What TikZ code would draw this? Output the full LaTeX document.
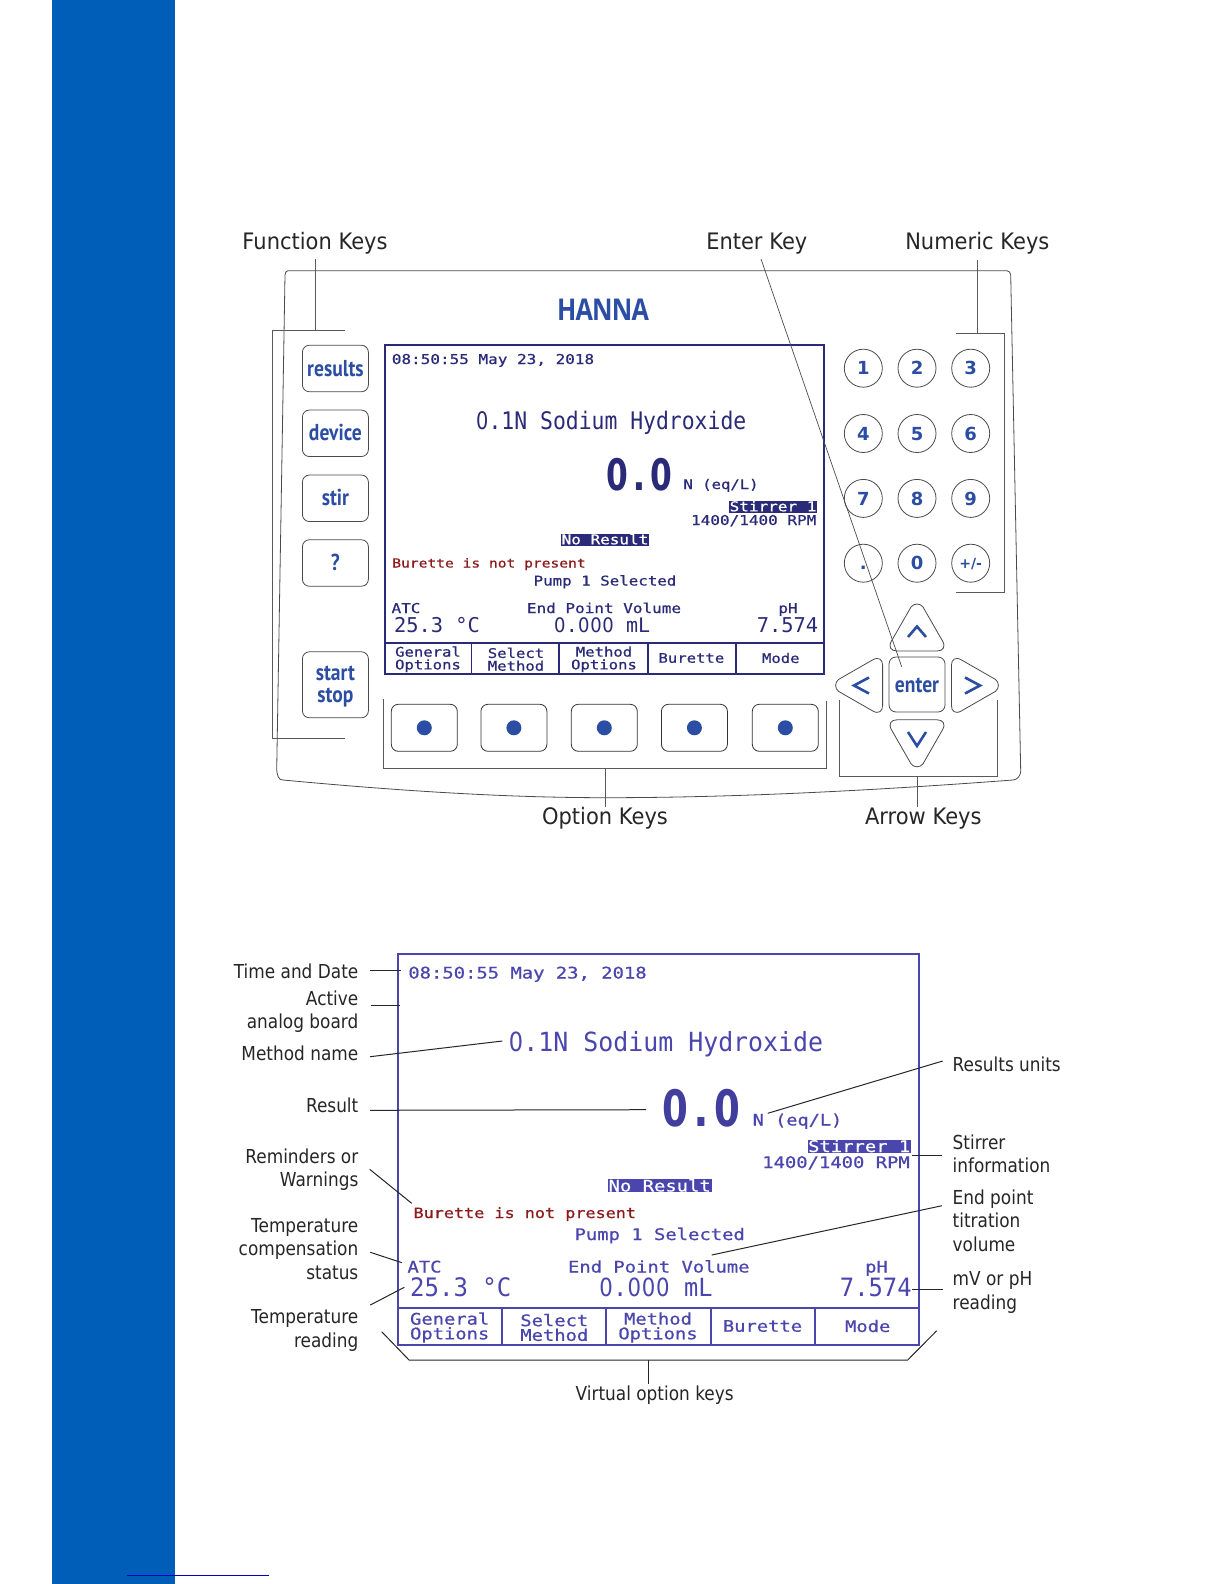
\documentclass[tikz,border=0pt]{standalone}
\usepackage{fontspec}
\usepackage{graphicx}
\newfontfamily\lblfont{DejaVu Sans}
\newfontfamily\logofont{Open Sans}
\newfontfamily\lcdfont{DejaVu Sans Mono}
\newfontfamily\lcdmid[FakeBold=0.6]{DejaVu Sans Mono}
\newfontfamily\keyfont{PT Sans}
\newfontfamily\zerofont{DejaVu Sans}
\definecolor{barblue}{HTML}{005EB8}
\definecolor{footline}{HTML}{0000C0}
\definecolor{navy}{HTML}{2A2A78}
\definecolor{violet}{HTML}{4A46AE}
\definecolor{keyblue}{HTML}{2B4DA3}
\definecolor{lcdred}{HTML}{8B1A1A}
\definecolor{outl}{HTML}{4A4A4A}
\newcommand{\ktxt}[1]{\scalebox{.85}[1]{#1}}
\newcommand{\zr}{\makebox[.602em]{\scalebox{.9}[1]{\zerofont 0}}}
\newcommand{\zb}{\makebox[.602em]{\scalebox{.865}[1]{\zerofont\bfseries 0}}}
\tikzset{
  x=1pt,y=-1pt,
  lcdr/.style n args={2}{font=\lcdfont\fontsize{#1}{#1}\selectfont,yscale=#2,inner sep=0pt,outer sep=0pt,anchor=base},
  lcdb/.style n args={2}{font=\lcdmid\fontsize{#1}{#1}\selectfont,yscale=#2,inner sep=0pt,outer sep=0pt,anchor=base},
  lcdh/.style n args={2}{font=\lcdfont\bfseries\fontsize{#1}{#1}\selectfont,yscale=#2,inner sep=0pt,outer sep=0pt,anchor=base},
  softa/.style={font=\lcdmid\fontsize{15.6}{15}\selectfont,yscale=.85,align=center,inner sep=0pt,text=navy},
  softb/.style={font=\lcdmid\fontsize{18.8}{17.3}\selectfont,yscale=.85,align=center,inner sep=0pt,text=violet},
  lbl/.style={font=\lblfont\fontsize{18}{21.8}\selectfont,xscale=.94,yscale=1.07,text=black!85,inner sep=0pt,outer sep=0pt,anchor=base east,align=right},
  lblr/.style={font=\lblfont\fontsize{18}{21.8}\selectfont,xscale=.94,yscale=1.07,text=black!85,inner sep=0pt,outer sep=0pt,anchor=base west,align=left},
  head/.style={font=\lblfont\fontsize{21}{24}\selectfont,yscale=1.08,text=black!85,inner sep=0pt,outer sep=0pt,anchor=base},
  fnkey/.style={draw=outl,line width=.8pt,rounded corners=7pt,minimum width=66pt,minimum height=46.5pt,inner sep=0pt,outer sep=0pt,font=\keyfont\bfseries\fontsize{23}{25}\selectfont,text=keyblue,text height=15pt,text depth=0pt},
  optkey/.style={draw=black!80,line width=.8pt,rounded corners=7pt,minimum width=66pt,minimum height=47pt,inner sep=0pt,outer sep=0pt},
  optdot/.style={circle,fill=keyblue,minimum size=15pt,inner sep=0pt},
  numkey/.style={draw=outl,line width=.8pt,circle,minimum size=38pt,inner sep=0pt,outer sep=0pt,font=\lblfont\bfseries\fontsize{18}{20}\selectfont,text=keyblue,text height=13.5pt,text depth=0pt},
  arrowkey/.style={draw=outl,line width=.8pt},
  chev/.style={draw=keyblue,line width=2.6pt},
  bracket/.style={draw=black!65,line width=.9pt},
  leader/.style={draw=black!85,line width=1pt},
  thinlead/.style={draw=black!70,line width=.7pt},
}
\begin{document}
\begin{tikzpicture}
\useasboundingbox (0,0) rectangle (1224,1584);
\fill[white] (0,0) rectangle (1224,1584);
\fill[barblue] (52,0) rectangle (175,1584);
\draw[footline,line width=1pt] (126.7,1575) -- (268.7,1575);

% device outline
\draw[draw=outl,line width=.8pt] (288,270.7) -- (1007,270.7) to[out=0,in=100] (1010.7,275) -- (1020.7,771.5) to[out=265,in=5] (1013,780)
  .. controls (880,790) and (740,797.7) .. (605.6,797.7)
  .. controls (500,797.7) and (390,790) .. (283,780) to[out=185,in=275] (276.7,770) -- (285,275) to[out=85,in=180] (288,270.7);
\node[font=\logofont\bfseries\fontsize{30}{30}\selectfont\addfontfeature{LetterSpace=-3},text=keyblue,xscale=.84,inner sep=0pt,anchor=base] (logo) at (603,320) {HANNA};

% first screen
\draw[navy,line width=2pt] (385,344.5) rectangle (824,674);
\draw[navy,line width=2pt] (385,642.7) -- (824,642.7);
\foreach \xx in {471.5,559,648,736} \draw[navy,line width=1.6pt] (\xx,642.7) -- (\xx,674);
\fill[navy] (729,501) rectangle (817,512.5);
\fill[navy] (561,534) rectangle (649,545.5);
\node[lcdb={16}{.85},text=navy] (aTime) at (493,364) {08:50:55 May 23, 2018};
\node[lcdr={21.4}{1.13},text=navy] (aMethod) at (611,429.5) {\zr.1N Sodium Hydroxide};
\node[lcdh={36.2}{1.2},text=navy] (aResult) at (639.5,490) {\zb.\zb};
\node[lcdb={15.6}{.85},text=navy] (aUnits) at (721,489) {N (eq/L)};
\node[lcdb={16}{.85},text=white] (aStir) at (773,511.3) {Stirrer 1};
\node[lcdb={16}{.85},text=navy] (aRpm) at (753.7,525) {1400/1400 RPM};
\node[lcdb={16}{.85},text=white] (aNoRes) at (605,544.3) {No Result};
\node[lcdb={14.6}{.85},text=lcdred] (aBur) at (489,567.5) {Burette is not present};
\node[lcdb={15.8}{.85},text=navy] (aPump) at (605,585.5) {Pump 1 Selected};
\node[lcdb={16}{.85},text=navy] (aAtc) at (406,613) {ATC};
\node[lcdb={16}{.85},text=navy] (aEnd) at (604,613) {End Point Volume};
\node[lcdb={16}{.85},text=navy] (aPh) at (788,613) {pH};
\node[lcdr={20.4}{1},text=navy] (aTemp) at (437,632) {25.3 °C};
\node[lcdr={20}{1},text=navy] (aVol) at (602,632) {\zr.\zr\zr\zr{} mL};
\node[lcdr={20.4}{1},text=navy] (aPhv) at (787.5,632) {7.574};
\node[softa] (aS1) at (428,659.3) {General\\Options};
\node[softa] (aS2) at (516,659.3) {Select\\Method};
\node[softa] (aS3) at (604,659.3) {Method\\Options};
\node[softa] (aS4) at (691.4,658) {Burette};
\node[softa] (aS5) at (780.8,658) {Mode};

% function keys
\node[fnkey] (kResults) at (335.4,368.5) {\ktxt{results}};
\node[fnkey] (kDevice) at (335.4,433.3) {\ktxt{device}};
\node[fnkey] (kStir) at (335.4,498.3) {\ktxt{stir}};
\node[fnkey] (kHelp) at (335.4,563) {\ktxt{?}};
\node[fnkey,minimum height=66pt,text height=35pt,align=center,font=\keyfont\bfseries\fontsize{23}{22}\selectfont] (kStart) at (335.4,684.8) {\ktxt{start}\\\ktxt{stop}};

% option keys
\foreach \nm/\xx in {o1/424.3,o2/513.9,o3/604.3,o4/694.4,o5/785.3}{
  \node[optkey] (\nm) at (\xx,727.8) {};
  \node[optdot] (\nm d) at (\nm) {};
}

% numeric keys
\foreach \nm/\xx/\yy/\tx in {n1/863.3/368.2/1,n2/917/368.2/2,n3/970.7/368.2/3,n4/863.3/433.5/4,n5/917/433.5/5,n6/970.7/433.5/6,n7/863.3/498.4/7,n8/917/498.4/8,n9/970.7/498.4/9,nd/863.3/563.2/.,n0/917/563.2/0}{
  \node[numkey] (\nm) at (\xx,\yy) {\tx};
}
\node[numkey,font=\lblfont\bfseries\fontsize{14}{16}\selectfont,text height=11.5pt] (npm) at (970.7,563.2) {+/-};

% arrow keys
\foreach \ang in {0,90,180,270}{
\draw[arrowkey,rotate around={\ang:(917,685.4)}] (911,607) -- (891.5,641) .. controls (888,647) and (891,651) .. (897,651) -- (937,651) .. controls (943,651) and (946,647) .. (942.5,641) -- (923,607) .. controls (920,603) and (914,603) .. (911,607) -- cycle;
}
\node[fnkey,minimum width=56pt,minimum height=55pt] (kEnter) at (917,684.5) {\ktxt{enter}};
\draw[chev] (908,637) -- (917,626.5) -- (926,637);
\draw[chev] (908,732) -- (917,746) -- (926,732);
\draw[chev] (869,677.5) -- (854,685.5) -- (869,693.5);
\draw[chev] (965,677.5) -- (980,685.5) -- (965,693.5);

% brackets of the keypad
\coordinate (fA) at (344.6,330); \coordinate (fB) at (272,330); \coordinate (fC) at (272,738); \coordinate (fD) at (344.6,738);
\draw[bracket] (fA) -- (fB) -- (fC) -- (fD);
\coordinate (oA) at (383.4,699); \coordinate (oB) at (383.4,768.3); \coordinate (oC) at (826,768.3); \coordinate (oD) at (826,701);
\draw[bracket] (oA) -- (oB) -- (oC) -- (oD);
\coordinate (nA) at (956,333.5); \coordinate (nB) at (1004,333.5); \coordinate (nC) at (1004,592); \coordinate (nD) at (956,592);
\draw[bracket] (nA) -- (nB) -- (nC) -- (nD);
\coordinate (rA) at (839.3,700); \coordinate (rB) at (839.3,776); \coordinate (rC) at (997.3,776); \coordinate (rD) at (997.3,700);
\draw[bracket] (rA) -- (rB) -- (rC) -- (rD);

% headings
\node[head] (hFn) at (315,249) {Function Keys};
\node[head] (hEnter) at (756.8,249) {Enter Key};
\node[head] (hNum) at (977.3,249) {Numeric Keys};
\node[head] (hOpt) at (605,824.5) {Option Keys};
\node[head] (hArr) at (923.3,824.5) {Arrow Keys};
\coordinate (lFn) at (315,259); \coordinate (lFnE) at (315,330);
\coordinate (lEn) at (761,259); \coordinate (lEnE) at (901.7,666.8);
\coordinate (lNu) at (977.3,259.5); \coordinate (lNuE) at (977.3,333.5);
\coordinate (lOp) at (605,768.3); \coordinate (lOpE) at (605,806.7);
\coordinate (lAr) at (917.3,776); \coordinate (lArE) at (917.3,807);
\draw[bracket] (lFn) -- (lFnE);
\draw[thinlead] (lEn) -- (lEnE);
\draw[bracket] (lNu) -- (lNuE);
\draw[bracket] (lOp) -- (lOpE);
\draw[bracket] (lAr) -- (lArE);

% second screen
\draw[violet,line width=2pt] (398.3,954.3) rectangle (919.3,1345);
\draw[violet,line width=2pt] (398.3,1307.7) -- (919.3,1307.7);
\foreach \xx in {501.7,605.7,710.7,815} \draw[violet,line width=1.6pt] (\xx,1307.7) -- (\xx,1345);
\fill[violet] (807.7,1140) rectangle (910.7,1152.7);
\fill[violet] (607.7,1179) rectangle (711.7,1192.3);
\node[lcdb={18.85}{.85},text=violet] (bTime) at (527.5,978.5) {08:50:55 May 23, 2018};
\node[lcdr={24.9}{1.06},text=violet] (bMethod) at (665.8,1051.5) {\zr.1N Sodium Hydroxide};
\node[lcdh={42.9}{1.17},text=violet!70!navy] (bResult) at (701.3,1126.5) {\zb.\zb};
\node[lcdb={18.6}{.85},text=violet] (bUnits) at (797.5,1125.5) {N (eq/L)};
\node[lcdb={18.85}{.85},text=white] (bStir) at (859.2,1152) {Stirrer 1};
\node[lcdb={18.85}{.85},text=violet] (bRpm) at (836,1168) {1400/1400 RPM};
\node[lcdb={18.85}{.85},text=white] (bNoRes) at (659.7,1191.5) {No Result};
\node[lcdb={16.8}{.85},text=lcdred] (bBur) at (524.8,1218) {Burette is not present};
\node[lcdb={18.85}{.85},text=violet] (bPump) at (659.7,1240) {Pump 1 Selected};
\node[lcdb={18.85}{.85},text=violet] (bAtc) at (424.5,1272.5) {ATC};
\node[lcdb={18.85}{.85},text=violet] (bEnd) at (658.8,1272.5) {End Point Volume};
\node[lcdb={18.85}{.85},text=violet] (bPh) at (876.5,1272.5) {pH};
\node[lcdr={24}{1.06},text=violet] (bTemp) at (460.8,1296) {25.3 °C};
\node[lcdr={23.6}{1.06},text=violet] (bVol) at (655.8,1296) {\zr.\zr\zr\zr{} mL};
\node[lcdr={23.8}{1.06},text=violet] (bPhv) at (875.8,1296) {7.574};
\node[softb] (bS1) at (449.7,1327.5) {General\\Options};
\node[softb] (bS2) at (554.3,1327.5) {Select\\Method};
\node[softb] (bS3) at (658,1327.5) {Method\\Options};
\node[softb] (bS4) at (762.5,1326) {Burette};
\node[softb] (bS5) at (867.7,1326) {Mode};

% labels of the second screen
\node[lbl] (tTime) at (358.3,978) {Time and Date};
\node[lbl] (tBoard) at (358.3,1028.7) {Active\\analog board};
\node[lbl] (tMethod) at (358.3,1060.7) {Method name};
\node[lbl] (tResult) at (358.3,1112.3) {Result};
\node[lbl] (tRem) at (358.3,1186.7) {Reminders or\\Warnings};
\node[lbl] (tComp) at (358.3,1279.3) {Temperature\\compensation\\status};
\node[lbl] (tRead) at (358.3,1347.3) {Temperature\\reading};
\node[lblr] (tUnits) at (952.7,1071) {Results units};
\node[lblr] (tStir) at (952.7,1172.7) {Stirrer\\ information};
\node[lblr] (tEnd) at (952.7,1251) {End point\\titration\\volume};
\node[lblr] (tMv) at (952.7,1309.3) {mV or pH\\reading};
\node[font=\lblfont\fontsize{18}{22}\selectfont,xscale=.94,yscale=1.07,text=black!85,inner sep=0pt,anchor=base] (tVirt) at (654.7,1400.7) {Virtual option keys};

% connectors of the second screen
\coordinate (c1a) at (370.3,970); \coordinate (c1b) at (400.7,970);
\coordinate (c2a) at (370.7,1005); \coordinate (c2b) at (400,1005);
\coordinate (c3a) at (370,1056.7); \coordinate (c3b) at (502.3,1041);
\coordinate (c4a) at (370,1110.3); \coordinate (c4b) at (646,1109.7);
\coordinate (c5a) at (369.7,1169.3); \coordinate (c5b) at (411.7,1203.3);
\coordinate (c6a) at (370.3,1252.3); \coordinate (c6b) at (402,1262.7);
\coordinate (c7a) at (370.3,1305); \coordinate (c7b) at (404.3,1287.3);
\coordinate (c8a) at (942.7,1061); \coordinate (c8b) at (767.7,1113.3);
\coordinate (c9a) at (941.7,1155.7); \coordinate (c9b) at (911.7,1155.7);
\coordinate (c10a) at (942,1205.7); \coordinate (c10b) at (711.7,1255);
\coordinate (c11a) at (942.7,1289.7); \coordinate (c11b) at (911.7,1289.7);
\foreach \i in {1,...,11} \draw[leader] (c\i a) -- (c\i b);
\coordinate (vA) at (381.7,1331.7); \coordinate (vB) at (409,1360); \coordinate (vC) at (907.7,1360); \coordinate (vD) at (936.7,1330.7);
\draw[leader] (vA) -- (vB) -- (vC) -- (vD);
\coordinate (vE) at (648.7,1360); \coordinate (vF) at (648.7,1384.3);
\draw[leader] (vE) -- (vF);
\end{tikzpicture}
\end{document}
